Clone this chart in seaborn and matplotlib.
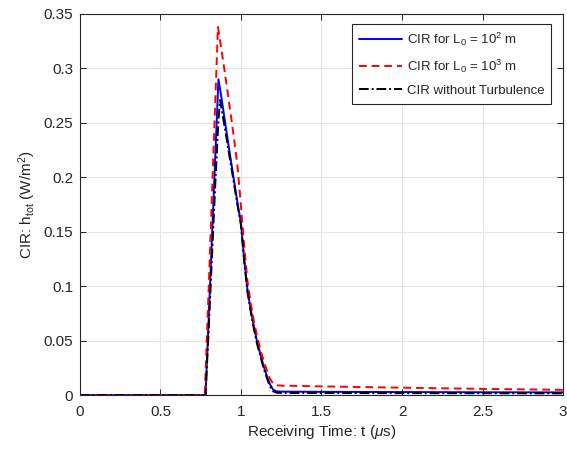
import numpy as np
import pandas as pd
import matplotlib
matplotlib.use("Agg")
import matplotlib.pyplot as plt
import seaborn as sns

# ---- data ----
t_blue = [0.0, 0.78, 0.80, 0.82, 0.84, 0.86, 0.88, 0.90, 0.92, 0.94, 0.96, 0.98, 1.00,
          1.02, 1.04, 1.06, 1.08, 1.10, 1.12, 1.14, 1.16, 1.18, 1.20, 1.22, 1.25, 1.5, 2.0, 2.5, 3.0]
h_blue = [0.0, 0.0, 0.072, 0.145, 0.218, 0.290, 0.272, 0.252, 0.232, 0.213, 0.194, 0.175, 0.158,
          0.125, 0.097, 0.079, 0.063, 0.049, 0.038, 0.027, 0.018, 0.010, 0.005, 0.0035, 0.0032,
          0.0030, 0.0028, 0.0026, 0.0025]

t_red = [0.0, 0.775, 0.80, 0.82, 0.84, 0.857, 0.88, 0.90, 0.92, 0.94, 0.96, 0.98, 1.00,
         1.02, 1.04, 1.06, 1.08, 1.10, 1.12, 1.14, 1.16, 1.18, 1.20, 1.22, 1.25, 1.5, 2.0, 2.5, 3.0]
h_red = [0.0, 0.0, 0.100, 0.185, 0.268, 0.338, 0.316, 0.296, 0.275, 0.254, 0.232, 0.208, 0.173,
         0.137, 0.105, 0.085, 0.068, 0.054, 0.042, 0.032, 0.023, 0.015, 0.0105, 0.0090, 0.0087,
         0.0080, 0.0068, 0.0057, 0.0048]

t_black = [0.0, 0.78, 0.80, 0.82, 0.84, 0.86, 0.87, 0.88, 0.90, 0.92, 0.94, 0.96, 0.98, 1.00,
           1.02, 1.04, 1.06, 1.08, 1.10, 1.12, 1.14, 1.16, 1.18, 1.20, 1.22, 1.25, 1.5, 2.0, 2.5, 3.0]
h_black = [0.0, 0.0, 0.062, 0.127, 0.192, 0.252, 0.271, 0.262, 0.245, 0.227, 0.209, 0.191, 0.173, 0.156,
           0.123, 0.095, 0.077, 0.061, 0.047, 0.036, 0.025, 0.016, 0.008, 0.0035, 0.0022, 0.0020,
           0.0019, 0.0018, 0.0017, 0.0016]

labels = [r"CIR for L$_\mathrm{0}$ = 10$^\mathrm{2}$ m", r"CIR for L$_\mathrm{0}$ = 10$^\mathrm{3}$ m",
          "CIR without Turbulence"]
x_ticks = [0, 0.5, 1, 1.5, 2, 2.5, 3]
x_ticklabels = ["0", "0.5", "1", "1.5", "2", "2.5", "3"]
y_ticks = [0, 0.05, 0.1, 0.15, 0.2, 0.25, 0.3, 0.35]
y_ticklabels = ["0", "0.05", "0.1", "0.15", "0.2", "0.25", "0.3", "0.35"]

# ---- style ----
sns.set_style("whitegrid")
plt.rcParams["font.family"] = ["Liberation Sans", "DejaVu Sans"]
plt.rcParams["mathtext.fontset"] = "custom"
plt.rcParams["mathtext.rm"] = "Liberation Sans"
plt.rcParams["mathtext.it"] = "Liberation Sans:italic"
plt.rcParams["mathtext.bf"] = "Liberation Sans:bold"

fig = plt.figure(figsize=(5.67, 4.5), dpi=100)
ax = fig.add_axes([0.141, 0.122, 0.852, 0.847])

axis_col = "#262626"
series = [
    (t_blue, h_blue, labels[0], "#0000ff", "-"),
    (t_red, h_red, labels[1], "#ff0000", (0, (4, 2.5))),
    (t_black, h_black, labels[2], "#000000", (0, (5, 1.5, 1, 1.5))),
]
for t, h, lab, col, ls in series:
    df = pd.DataFrame({"t": t, "h": h})
    sns.lineplot(data=df, x="t", y="h", ax=ax, color=col, linestyle=ls,
                 linewidth=1.4, label=lab, sort=False)

ax.set_xlim(0, 3)
ax.set_ylim(0, 0.35)
ax.set_xticks(x_ticks)
ax.set_xticklabels(x_ticklabels)
ax.set_yticks(y_ticks)
ax.set_yticklabels(y_ticklabels)
ax.set_xlabel(r"Receiving Time: t ($\mu$s)", fontsize=11, color=axis_col, labelpad=3)
ax.set_ylabel(r"CIR: h$_\mathrm{tot}$ (W/m$^\mathrm{2}$)", fontsize=11, color=axis_col, labelpad=4)

ax.grid(True, color="#e6e6e6", linewidth=0.8)
ax.set_axisbelow(True)
for sp in ax.spines.values():
    sp.set_visible(True)
    sp.set_color(axis_col)
    sp.set_linewidth(0.8)
ax.tick_params(axis="both", direction="in", length=4, width=0.7, colors=axis_col,
               labelsize=11, top=True, right=True, bottom=True, left=True, pad=5)
ax.tick_params(axis="x", pad=7)

leg = ax.legend(loc="upper right", bbox_to_anchor=(0.975, 0.974), borderaxespad=0,
                fontsize=9.5, frameon=True, fancybox=False, edgecolor=axis_col, framealpha=1,
                handlelength=3.3, labelspacing=0.75, borderpad=0.5, handletextpad=0.35)
leg.get_frame().set_linewidth(0.8)

fig.savefig("out.png", dpi=100, facecolor="white")
